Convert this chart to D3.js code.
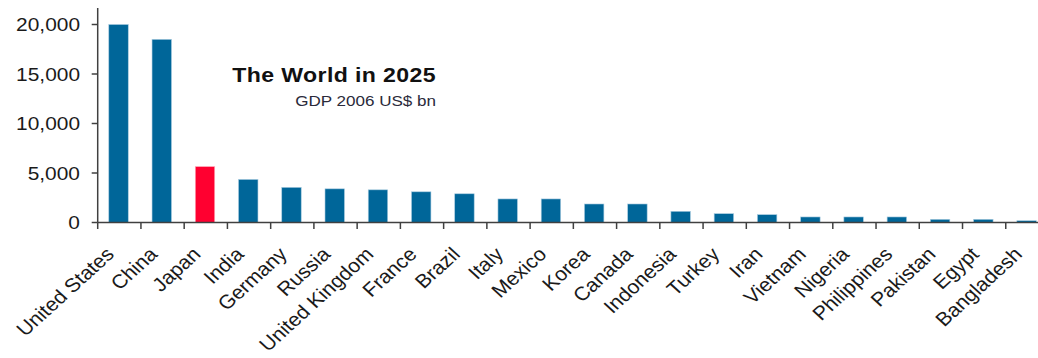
<!DOCTYPE html>
<html>
<head>
<meta charset="utf-8">
<script src="https://cdn.jsdelivr.net/npm/d3@7"></script>
<style>
  html, body { margin: 0; padding: 0; background: #fff; }
  svg { display: block; }
  text { font-family: "Liberation Sans", Arial, sans-serif; fill: #1a1a1a; }
</style>
</head>
<body>
<svg id="chart" width="1038" height="358"></svg>
<script>
const countries = ["United States","China","Japan","India","Germany","Russia","United Kingdom","France","Brazil","Italy","Mexico","Korea","Canada","Indonesia","Turkey","Iran","Vietnam","Nigeria","Philippines","Pakistan","Egypt","Bangladesh"];
const gdp = [20000,18500,5650,4350,3550,3400,3300,3100,2900,2380,2380,1870,1870,1130,890,790,560,560,560,320,320,180];
const highlighted = ["Japan"];
const yTicks = [0,5000,10000,15000,20000];
const titleText = "The World in 2025";
const subtitleText = "GDP 2006 US$ bn";

const W = 1038, H = 358;
const sx = 1.1; // horizontal stretch of the reference
const x0 = 97.7, x1 = 1049, yBase = 222.5, yTop = 24.5;
const svg = d3.select("#chart");

const x = d3.scaleBand().domain(countries).range([x0, x1]).padding(0);
const y = d3.scaleLinear().domain([0, 20000]).range([yBase, yTop]);
const barW = x.bandwidth() * 0.45;

// bars
svg.append("g").selectAll("rect").data(countries).join("rect")
  .attr("x", d => x(d) + (x.bandwidth() - barW) / 2 - 0.8)
  .attr("y", (d, i) => y(gdp[i]))
  .attr("width", barW)
  .attr("height", (d, i) => y(0) - y(gdp[i]))
  .attr("fill", d => highlighted.includes(d) ? "#FF0030" : "#006699")
  .attr("stroke", d => highlighted.includes(d) ? "#ffb3c0" : "#a9cce0")
  .attr("stroke-width", 0.6);

const axisColor = "#404040";
// y axis
const yAxis = svg.append("g");
yAxis.append("line").attr("x1", x0).attr("x2", x0).attr("y1", 8).attr("y2", yBase)
  .attr("stroke", axisColor).attr("stroke-width", 1.5);
yAxis.selectAll("line.tick").data(yTicks).join("line").attr("class", "tick")
  .attr("x1", x0 - 6).attr("x2", x0).attr("y1", d => y(d)).attr("y2", d => y(d))
  .attr("stroke", axisColor).attr("stroke-width", 1.5);
yAxis.selectAll("text").data(yTicks).join("text")
  .attr("transform", d => `translate(80,${y(d)}) scale(${sx},1)`)
  .attr("text-anchor", "end").attr("dy", "0.36em")
  .style("font-size", "19px")
  .text(d => d3.format(",")(d));

// x axis
const xAxis = svg.append("g");
xAxis.append("line").attr("x1", x0).attr("x2", x1).attr("y1", yBase).attr("y2", yBase)
  .attr("stroke", axisColor).attr("stroke-width", 1.5);
const bounds = countries.map(d => x(d)).concat([x1]);
xAxis.selectAll("line.tick").data(bounds).join("line").attr("class", "tick")
  .attr("x1", d => d).attr("x2", d => d).attr("y1", yBase).attr("y2", yBase + 6.5)
  .attr("stroke", axisColor).attr("stroke-width", 1.5);
xAxis.selectAll("text").data(countries).join("text")
  .attr("transform", d => `translate(${x(d) + x.bandwidth() / 2 - 4},${yBase + 33}) scale(${sx},1) rotate(-45)`)
  .attr("text-anchor", "end")
  .style("font-size", "19.3px")
  .text(d => d);

// title
svg.append("text")
  .attr("transform", `translate(436,82) scale(${sx},1)`)
  .attr("text-anchor", "end")
  .style("font-size", "21px").style("font-weight", "bold").style("letter-spacing", "0.35px")
  .style("fill", "#111")
  .text(titleText);
svg.append("text")
  .attr("transform", `translate(436,106) scale(${sx},1)`)
  .attr("text-anchor", "end")
  .style("font-size", "15.5px")
  .style("fill", "#2a2a3a")
  .text(subtitleText);
</script>
</body>
</html>
